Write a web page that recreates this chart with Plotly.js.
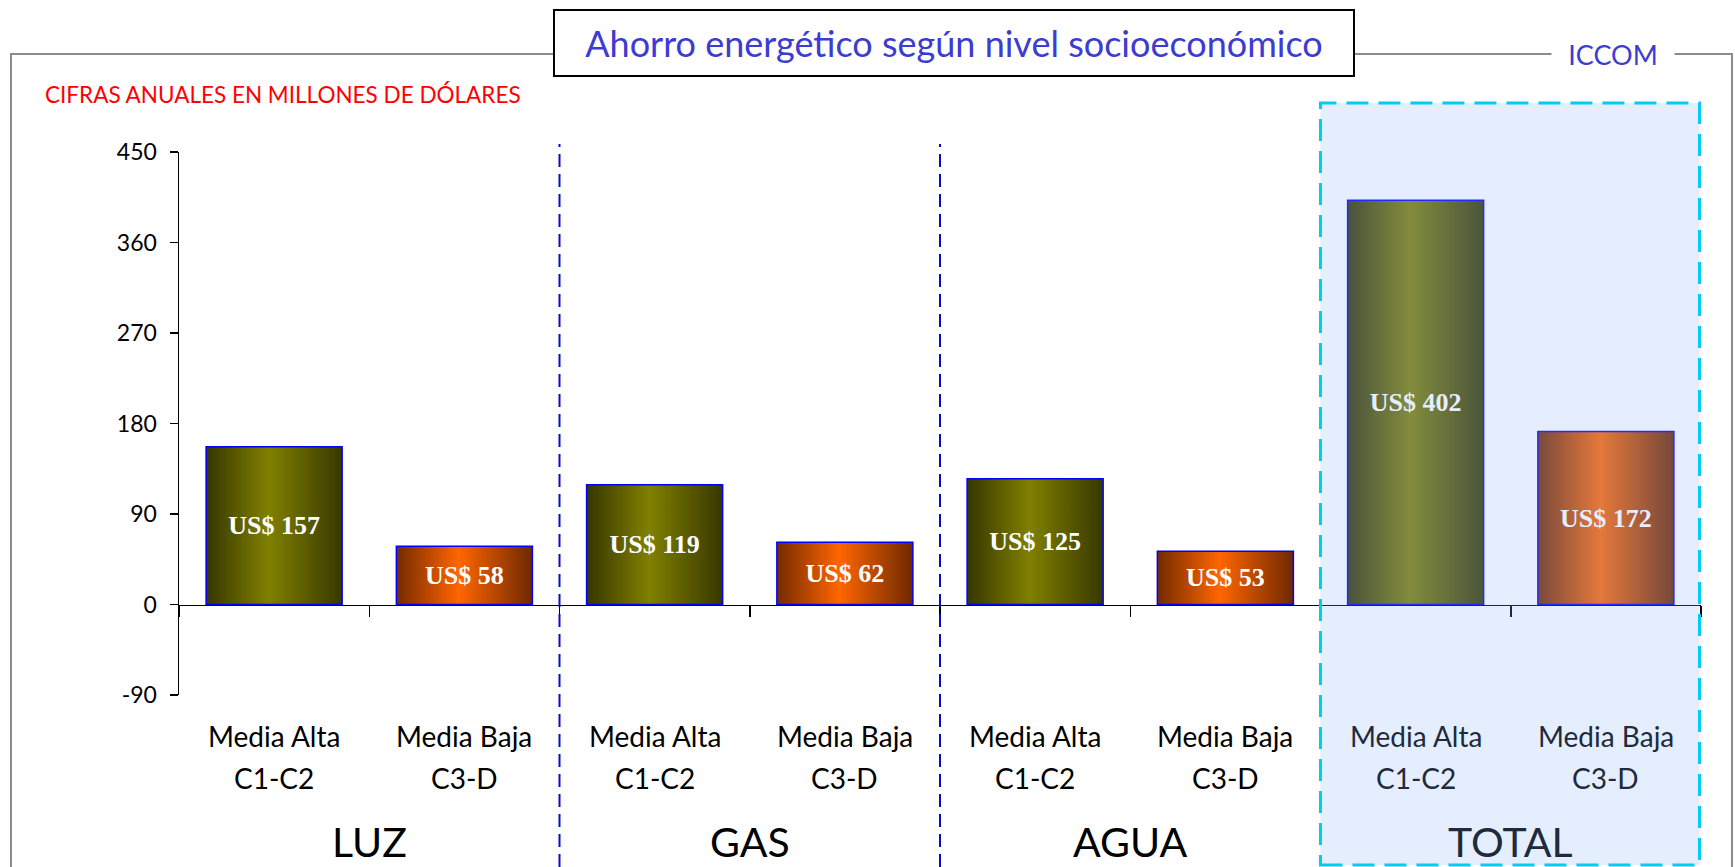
<!DOCTYPE html>
<html>
<head>
<meta charset="utf-8">
<script src="https://cdn.plot.ly/plotly-3.0.1.min.js"></script>
<style>
  html, body { margin: 0; padding: 0; background: #ffffff; }
  #chart { width: 1735px; height: 867px; }
</style>
</head>
<body>
<div id="chart"></div>
<script>
// ---------------- DATA ----------------
var categorias = ['LUZ', 'GAS', 'AGUA', 'TOTAL'];
var segmentoNombre = ['Media Alta', 'Media Baja'];
var segmentoCodigo = ['C1-C2', 'C3-D'];
var ahorroAlta = [157, 119, 125, 402];   // Media Alta C1-C2
var ahorroBaja = [58, 62, 53, 172];      // Media Baja C3-D
var yTicks = [-90, 0, 90, 180, 270, 360, 450];
var tituloTexto = 'Ahorro energético según nivel socioeconómico';
var subtituloTexto = 'CIFRAS ANUALES EN MILLONES DE DÓLARES';
var fuenteTexto = 'ICCOM';

// ---------------- LAYOUT HELPERS ----------------
var W = 1735, H = 867;
var M = { l: 179, r: 34, t: 152, b: 172 };
var plotW = W - M.l - M.r, plotH = H - M.t - M.b;
function px(p) { return (p - M.l) / plotW; }
function py(p) { return (H - M.b - p) / plotH; }
var nCat = categorias.length * segmentoNombre.length;
function bx(b) { return (b + 0.5) / nCat; }  // category boundary -> paper x

var FONT = 'Lato, "Open Sans", sans-serif';

var xAlta = categorias.map(function (c, i) { return 2 * i; });
var xBaja = categorias.map(function (c, i) { return 2 * i + 1; });

var barText = { family: '"Liberation Serif", "Times New Roman", serif', size: 26, color: '#ffffff', weight: 'bold' };

var traces = [
  {
    type: 'bar', name: segmentoNombre[0] + ' ' + segmentoCodigo[0],
    x: xAlta, y: ahorroAlta, width: 0.715,
    text: ahorroAlta.map(function (v) { return 'US$ ' + v; }),
    textposition: 'inside', insidetextanchor: 'middle', textangle: 0, constraintext: 'none',
    textfont: barText,
    marker: { color: '#808000', line: { color: '#0000ff', width: 1.5 } },
    hoverinfo: 'none'
  },
  {
    type: 'bar', name: segmentoNombre[1] + ' ' + segmentoCodigo[1],
    x: xBaja, y: ahorroBaja, width: 0.715,
    text: ahorroBaja.map(function (v) { return 'US$ ' + v; }),
    textposition: 'inside', insidetextanchor: 'middle', textangle: 0, constraintext: 'none',
    textfont: barText,
    marker: { color: '#ff6600', line: { color: '#0000ff', width: 1.5 } },
    hoverinfo: 'none'
  }
];

var boundaries = [];
for (var b = -0.5; b <= nCat - 0.5; b += 1) boundaries.push(b);

var annotations = [];
function ann(o) {
  o.showarrow = false;
  if (!o.xanchor) o.xanchor = 'center';
  if (!o.yanchor) o.yanchor = 'middle';
  annotations.push(o);
}
// title box
ann({
  xref: 'paper', yref: 'paper', x: px(954), y: py(43),
  text: tituloTexto, font: { family: FONT, size: 36, color: '#3c3cd2' },
  width: 796, height: 62, bgcolor: '#ffffff', bordercolor: '#000000', borderwidth: 2
});
// source
ann({
  xref: 'paper', yref: 'paper', x: px(1613), y: py(54),
  text: fuenteTexto, font: { family: FONT, size: 27, color: '#3c3cd2' },
  width: 120, height: 24, bgcolor: '#ffffff'
});
// subtitle
ann({
  xref: 'paper', yref: 'paper', x: px(43), y: py(94), xanchor: 'left',
  text: subtituloTexto, font: { family: FONT, size: 22.5, color: '#ff0000' }
});
// category + group labels
categorias.forEach(function (c, i) {
  var enTotal = (i === categorias.length - 1);
  var col = enTotal ? '#202a3a' : '#000000';
  segmentoNombre.forEach(function (s, k) {
    ann({
      xref: 'x', yref: 'paper', x: 2 * i + k, y: py(736),
      text: s, font: { family: FONT, size: 28, color: col }
    });
    ann({
      xref: 'x', yref: 'paper', x: 2 * i + k, y: py(778),
      text: segmentoCodigo[k], font: { family: FONT, size: 28, color: col }
    });
  });
  ann({
    xref: 'x', yref: 'paper', x: 2 * i + 0.5, y: py(841),
    text: c, font: { family: FONT, size: 41, color: col }
  });
});

var shapes = [
  // outer gray frame
  { type: 'rect', xref: 'paper', yref: 'paper', x0: px(11), x1: px(1732), y0: py(H + 40), y1: py(54),
    line: { color: '#8c8c8c', width: 2 }, fillcolor: 'rgba(0,0,0,0)', layer: 'below' },
  // blue dashed separators
  { type: 'line', xref: 'paper', yref: 'paper', x0: bx(1.5), x1: bx(1.5), y0: py(H + 20), y1: py(144),
    line: { color: '#0a0acc', width: 2, dash: '13px,7px' }, layer: 'above' },
  { type: 'line', xref: 'paper', yref: 'paper', x0: bx(3.5), x1: bx(3.5), y0: py(H + 20), y1: py(144),
    line: { color: '#0a0acc', width: 2, dash: '13px,7px' }, layer: 'above' },
  // TOTAL highlight box (translucent overlay)
  { type: 'rect', xref: 'paper', yref: 'paper', x0: bx(5.5), x1: bx(7.5) - 0.001, y0: py(865), y1: py(103),
    line: { color: '#00ccf5', width: 3, dash: '22px,10px' }, fillcolor: 'rgba(141,183,254,0.23)', layer: 'above' }
];

var layout = {
  width: W, height: H,
  margin: M,
  paper_bgcolor: '#ffffff', plot_bgcolor: 'rgba(0,0,0,0)',
  showlegend: false,
  barmode: 'overlay',
  xaxis: {
    range: [-0.5, nCat - 0.5], anchor: 'free', position: 90 / 540,
    showline: true, linecolor: '#000000', linewidth: 1.5,
    ticks: 'outside', tickmode: 'array', tickvals: boundaries, ticklen: 11, tickwidth: 1.5, tickcolor: '#000000',
    showticklabels: false, showgrid: false, zeroline: false, fixedrange: true
  },
  yaxis: {
    range: [-90, 450], tickmode: 'array', tickvals: yTicks,
    ticktext: yTicks.map(function (v) { return String(v); }),
    ticks: 'outside', ticklen: 8, tickwidth: 1.5, tickcolor: '#000000',
    showline: true, linecolor: '#000000', linewidth: 1.5,
    showgrid: false, zeroline: false, fixedrange: true,
    tickfont: { family: FONT, size: 23, color: '#000000' }, ticklabelstandoff: 8
  },
  annotations: annotations,
  shapes: shapes
};

Plotly.newPlot('chart', traces, layout, { displayModeBar: false, staticPlot: true }).then(function () {
  var svg = document.querySelector('#chart .main-svg');
  var defs = svg.querySelector('defs');
  var NS = 'http://www.w3.org/2000/svg';
  function addGrad(id, edgeL, mid, edgeR) {
    var g = document.createElementNS(NS, 'linearGradient');
    g.setAttribute('id', id);
    g.setAttribute('x1', '0'); g.setAttribute('y1', '0');
    g.setAttribute('x2', '1'); g.setAttribute('y2', '0');
    [[0, edgeL], [0.46, mid], [1, edgeR]].forEach(function (s) {
      var st = document.createElementNS(NS, 'stop');
      st.setAttribute('offset', s[0]);
      st.setAttribute('stop-color', s[1]);
      g.appendChild(st);
    });
    defs.appendChild(g);
  }
  addGrad('gradAlta', '#363600', '#808000', '#383800');
  addGrad('gradBaja', '#742a00', '#ff6600', '#6e2800');
  var traceGroups = svg.querySelectorAll('.barlayer .trace');
  var ids = ['gradAlta', 'gradBaja'];
  traceGroups.forEach(function (tg, i) {
    tg.querySelectorAll('.point path').forEach(function (p) {
      p.style.fill = 'url(#' + ids[i] + ')';
    });
  });
});
</script>
</body>
</html>
